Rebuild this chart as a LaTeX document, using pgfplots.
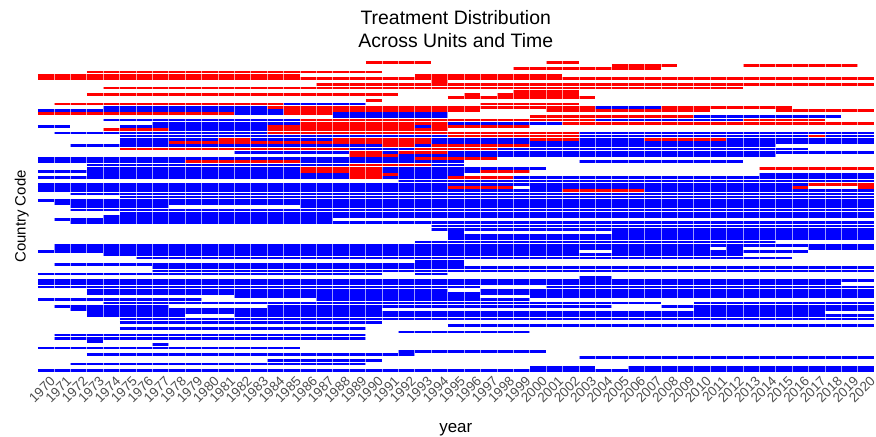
\documentclass[border=0pt]{standalone}
\usepackage{fontspec}
\setmainfont{Liberation Sans}
\usepackage{pgfplots}
\pgfplotsset{compat=1.18}
\definecolor{tickgray}{RGB}{77,77,77}
\begin{document}
\begin{tikzpicture}
\begin{axis}[
 name=ax,
 scale only axis, width=836.5bp, height=311.3bp,
 xmin=1969.5, xmax=2020.5, ymin=-0.5, ymax=96.5, y dir=reverse,
 axis line style={draw=none},
 xtick={1970,...,2020}, ytick=\empty,
 major tick length=0pt, minor tick length=0pt,
 /pgf/number format/assume math mode=true,
 /pgf/number format/1000 sep={},
 xticklabel style={xshift=3.5bp, yshift=-2bp, rotate=45, anchor=north east, font=\fontsize{13.5}{13.5}\selectfont, text=tickgray, inner sep=1pt},
 xlabel={year}, ylabel={Country Code},
 xlabel style={at={([yshift=-60bp]axis description cs:0.5,0)}, anchor=base, font=\fontsize{17}{17}\selectfont},
 ylabel style={at={([xshift=-12bp]axis description cs:0,0.5)}, anchor=base, font=\fontsize{15}{15}\selectfont},
 title={Treatment Distribution\\Across Units and Time},
 title style={at={([yshift=7bp]axis description cs:0.5,1)}, anchor=south, font=\fontsize{19.5}{22.5}\selectfont, align=center, inner sep=0pt},
 minor xtick={1969.5,1970.5,...,2020.5},
 xminorgrids, minor x grid style={white, opacity=0.6, line width=0.5bp},
 axis on top,
 unbounded coords=jump,
]
% treated (red): each run drawn from (first year - 0.5) to (last year + 0.5) on its row
\addplot[draw={rgb,255:red,255;green,0;blue,0}, line width=2.75bp, mark=none] coordinates {
(1989.5,0) (1993.5,0) (nan,nan) (2000.5,0) (2002.5,0) (nan,nan)
(2004.5,1) (2008.5,1) (nan,nan) (2012.5,1) (2019.5,1) (nan,nan)
(1998.5,2) (2007.5,2) (nan,nan)
(1972.5,3) (1990.5,3) (nan,nan)
(1969.5,4) (1985.5,4) (nan,nan) (1992.5,4) (2001.5,4) (nan,nan)
(1969.5,5) (2020.5,5) (nan,nan)
(1993.5,6) (1994.5,6) (nan,nan)
(1986.5,7) (2020.5,7) (nan,nan)
(1973.5,8) (2012.5,8) (nan,nan)
(1998.5,9) (2002.5,9) (nan,nan)
(1972.5,10) (1991.5,10) (nan,nan) (1995.5,10) (1996.5,10) (nan,nan) (1997.5,10) (2002.5,10) (nan,nan)
(1994.5,11) (2003.5,11) (nan,nan)
(1989.5,12) (1990.5,12) (nan,nan)
(1970.5,13) (1984.5,13) (nan,nan) (1996.5,13) (2002.5,13) (nan,nan)
(1983.5,14) (2003.5,14) (nan,nan) (2007.5,14) (2015.5,14) (nan,nan)
(1984.5,15) (1996.5,15) (nan,nan) (2000.5,15) (2010.5,15) (nan,nan) (2014.5,15) (2020.5,15) (nan,nan)
(1969.5,16) (1981.5,16) (nan,nan) (1984.5,16) (1987.5,16) (nan,nan)
(1999.5,17) (2009.5,17) (nan,nan)
(1985.5,18) (2003.5,18) (nan,nan) (2012.5,18) (2017.5,18) (nan,nan)
(1985.5,19) (1994.5,19) (nan,nan) (2001.5,19) (2020.5,19) (nan,nan)
(1983.5,20) (1992.5,20) (nan,nan) (1993.5,20) (1999.5,20) (nan,nan)
(1973.5,21) (1977.5,21) (nan,nan) (1983.5,21) (1994.5,21) (nan,nan)
(1983.5,22) (2002.5,22) (nan,nan)
(1994.5,23) (2002.5,23) (nan,nan) (2016.5,23) (2017.5,23) (nan,nan)
(1980.5,24) (1982.5,24) (nan,nan) (1987.5,24) (1993.5,24) (nan,nan) (1999.5,24) (2002.5,24) (nan,nan) (2006.5,24) (2011.5,24) (nan,nan)
(1977.5,25) (1993.5,25) (nan,nan)
(1990.5,26) (1992.5,26) (nan,nan) (1993.5,26) (1999.5,26) (nan,nan)
(1974.5,27) (1988.5,27) (nan,nan) (1992.5,27) (1997.5,27) (nan,nan)
(1988.5,28) (1990.5,28) (nan,nan) (1991.5,28) (1994.5,28) (nan,nan)
(1988.5,29) (1991.5,29) (nan,nan)
(1992.5,30) (1997.5,30) (nan,nan)
(1978.5,31) (1985.5,31) (nan,nan)
(1988.5,32) (1993.5,32) (nan,nan)
(1985.5,33) (1990.5,33) (nan,nan) (2013.5,33) (2020.5,33) (nan,nan)
(1985.5,34) (1990.5,34) (nan,nan) (1996.5,34) (1999.5,34) (nan,nan)
(1988.5,35) (1991.5,35) (nan,nan)
(1988.5,36) (1990.5,36) (nan,nan) (1994.5,36) (1998.5,36) (nan,nan)
(2016.5,38) (2020.5,38) (nan,nan)
(1994.5,39) (1998.5,39) (nan,nan) (2015.5,39) (2016.5,39) (nan,nan) (2019.5,39) (2020.5,39) (nan,nan)
(2001.5,40) (2006.5,40) (nan,nan)
};
% control (blue)
\addplot[draw={rgb,255:red,0;green,0;blue,255}, line width=2.75bp, mark=none] coordinates {
(1984.5,13) (1989.5,13) (nan,nan)
(1973.5,14) (1983.5,14) (nan,nan) (2003.5,14) (2007.5,14) (nan,nan)
(1969.5,15) (1984.5,15) (nan,nan)
(1981.5,16) (1984.5,16) (nan,nan) (1987.5,16) (1994.5,16) (nan,nan)
(1987.5,17) (1994.5,17) (nan,nan) (2009.5,17) (2018.5,17) (nan,nan)
(1973.5,18) (1985.5,18) (nan,nan) (2003.5,18) (2012.5,18) (nan,nan)
(1976.5,19) (1985.5,19) (nan,nan) (1994.5,19) (2001.5,19) (nan,nan)
(1969.5,20) (1971.5,20) (nan,nan) (1974.5,20) (1983.5,20) (nan,nan) (1992.5,20) (1993.5,20) (nan,nan)
(1977.5,21) (1983.5,21) (nan,nan)
(1970.5,22) (1983.5,22) (nan,nan) (2002.5,22) (2020.5,22) (nan,nan)
(1974.5,23) (1994.5,23) (nan,nan) (2002.5,23) (2016.5,23) (nan,nan) (2017.5,23) (2020.5,23) (nan,nan)
(1974.5,24) (1980.5,24) (nan,nan) (1982.5,24) (1987.5,24) (nan,nan) (1993.5,24) (1999.5,24) (nan,nan) (2002.5,24) (2006.5,24) (nan,nan) (2011.5,24) (2020.5,24) (nan,nan)
(1974.5,25) (1977.5,25) (nan,nan) (1993.5,25) (2020.5,25) (nan,nan)
(1971.5,26) (1990.5,26) (nan,nan) (1992.5,26) (1993.5,26) (nan,nan) (1999.5,26) (2014.5,26) (nan,nan)
(1988.5,27) (1992.5,27) (nan,nan) (1997.5,27) (2016.5,27) (nan,nan)
(1981.5,28) (1988.5,28) (nan,nan) (1990.5,28) (1991.5,28) (nan,nan) (1994.5,28) (2020.5,28) (nan,nan)
(1991.5,29) (2014.5,29) (nan,nan)
(1969.5,30) (1992.5,30) (nan,nan)
(1969.5,31) (1978.5,31) (nan,nan) (1985.5,31) (1995.5,31) (nan,nan) (2002.5,31) (2012.5,31) (nan,nan)
(1972.5,32) (1988.5,32) (nan,nan) (1993.5,32) (1995.5,32) (nan,nan)
(1972.5,33) (1985.5,33) (nan,nan) (1990.5,33) (2000.5,33) (nan,nan)
(1969.5,34) (1985.5,34) (nan,nan) (1990.5,34) (1996.5,34) (nan,nan)
(1972.5,35) (1988.5,35) (nan,nan) (1991.5,35) (1995.5,35) (nan,nan) (2013.5,35) (2020.5,35) (nan,nan)
(1969.5,36) (1988.5,36) (nan,nan) (1990.5,36) (1994.5,36) (nan,nan) (1998.5,36) (2020.5,36) (nan,nan)
(1991.5,37) (2020.5,37) (nan,nan)
(1969.5,38) (2016.5,38) (nan,nan)
(1969.5,39) (1994.5,39) (nan,nan) (1999.5,39) (2015.5,39) (nan,nan)
(1969.5,40) (2001.5,40) (nan,nan) (2006.5,40) (2020.5,40) (nan,nan)
(1971.5,41) (2020.5,41) (nan,nan)
(1974.5,42) (2020.5,42) (nan,nan)
(1969.5,43) (2020.5,43) (nan,nan)
(1970.5,44) (2020.5,44) (nan,nan)
(1971.5,45) (1977.5,45) (nan,nan) (1985.5,45) (2020.5,45) (nan,nan)
(1971.5,46) (2020.5,46) (nan,nan)
(1974.5,47) (2020.5,47) (nan,nan)
(1973.5,48) (2020.5,48) (nan,nan)
(1970.5,49) (1987.5,49) (nan,nan)
(1971.5,50) (2020.5,50) (nan,nan)
(1993.5,51) (2020.5,51) (nan,nan)
(1993.5,52) (2020.5,52) (nan,nan)
(1994.5,53) (1995.5,53) (nan,nan) (2004.5,53) (2020.5,53) (nan,nan)
(1994.5,54) (2020.5,54) (nan,nan)
(1994.5,55) (2020.5,55) (nan,nan)
(1992.5,56) (2014.5,56) (nan,nan)
(1970.5,57) (2020.5,57) (nan,nan)
(1970.5,58) (2010.5,58) (nan,nan) (2011.5,58) (2012.5,58) (nan,nan) (2016.5,58) (2020.5,58) (nan,nan)
(1969.5,59) (2002.5,59) (nan,nan) (2004.5,59) (2016.5,59) (nan,nan)
(1973.5,60) (2012.5,60) (nan,nan)
(1975.5,61) (2015.5,61) (nan,nan)
(1992.5,62) (1995.5,62) (nan,nan)
(1970.5,63) (1995.5,63) (nan,nan)
(1976.5,64) (2020.5,64) (nan,nan)
(1976.5,65) (2020.5,65) (nan,nan)
(1969.5,66) (1990.5,66) (nan,nan) (1992.5,66) (1994.5,66) (nan,nan)
(2002.5,67) (2004.5,67) (nan,nan)
(1969.5,68) (2020.5,68) (nan,nan)
(1969.5,69) (2018.5,69) (nan,nan)
(1969.5,70) (1996.5,70) (nan,nan) (2000.5,70) (2020.5,70) (nan,nan)
(1972.5,71) (1994.5,71) (nan,nan) (1996.5,71) (2020.5,71) (nan,nan)
(1972.5,72) (2020.5,72) (nan,nan)
(1981.5,73) (1996.5,73) (nan,nan) (1999.5,73) (2020.5,73) (nan,nan)
(1969.5,74) (1979.5,74) (nan,nan) (1986.5,74) (1999.5,74) (nan,nan)
(1973.5,75) (2007.5,75) (nan,nan) (2009.5,75) (2020.5,75) (nan,nan)
(1970.5,76) (1977.5,76) (nan,nan) (1983.5,76) (2004.5,76) (nan,nan) (2007.5,76) (2020.5,76) (nan,nan)
(1971.5,77) (1990.5,77) (nan,nan) (2009.5,77) (2020.5,77) (nan,nan)
(1972.5,78) (2017.5,78) (nan,nan)
(1972.5,79) (1978.5,79) (nan,nan) (1981.5,79) (2020.5,79) (nan,nan)
(1974.5,80) (2020.5,80) (nan,nan)
(1974.5,81) (1990.5,81) (nan,nan)
(1994.5,82) (2020.5,82) (nan,nan)
(1974.5,83) (1989.5,83) (nan,nan)
(1991.5,84) (1999.5,84) (nan,nan)
(1970.5,85) (1989.5,85) (nan,nan)
(1970.5,86) (1989.5,86) (nan,nan)
(1972.5,87) (1973.5,87) (nan,nan)
(1976.5,88) (1977.5,88) (nan,nan)
(1969.5,89) (1985.5,89) (nan,nan)
(1991.5,90) (2000.5,90) (nan,nan)
(1972.5,91) (1992.5,91) (nan,nan)
(2002.5,92) (2020.5,92) (nan,nan)
(1983.5,93) (1990.5,93) (nan,nan)
(1971.5,94) (1989.5,94) (nan,nan)
(1999.5,95) (2003.5,95) (nan,nan) (2005.5,95) (2020.5,95) (nan,nan)
(1969.5,96) (2020.5,96) (nan,nan)
};
\end{axis}
\pgfresetboundingbox
\path[use as bounding box] ([xshift=-37.5bp,yshift=-64bp]ax.south west) rectangle ([xshift=2bp,yshift=60.7bp]ax.north east);
\end{tikzpicture}
\end{document}
